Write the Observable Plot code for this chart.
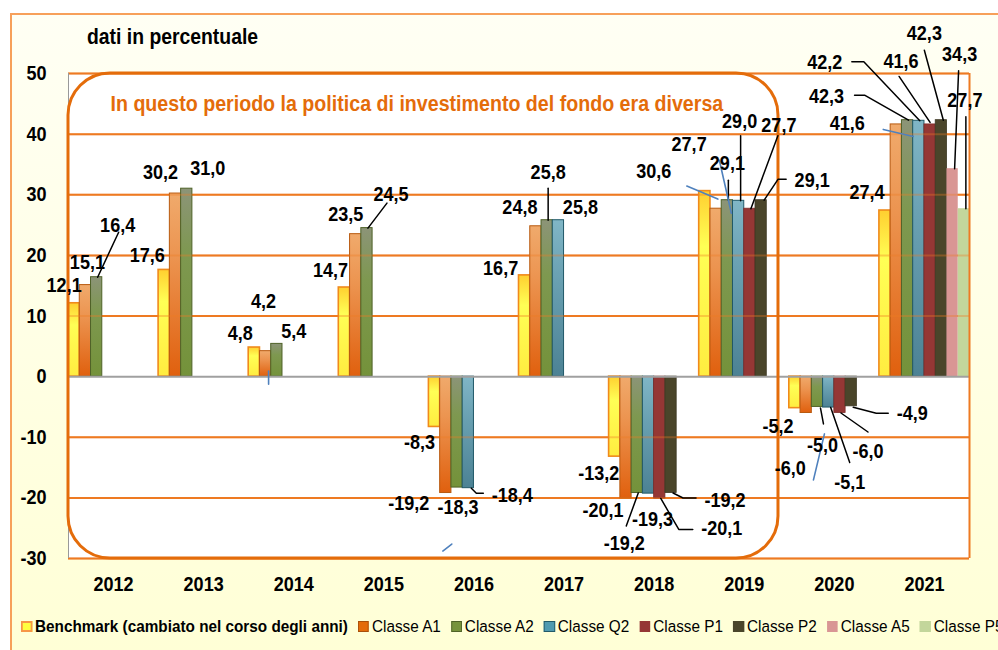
<!DOCTYPE html>
<html><head><meta charset="utf-8">
<script src="https://cdn.jsdelivr.net/npm/d3@7"></script>
<script src="https://cdn.jsdelivr.net/npm/@observablehq/plot@0.6"></script>
<style>
html,body{margin:0;padding:0;background:#fff;width:998px;height:650px;overflow:hidden;font-family:"Liberation Sans",Arial,sans-serif;}
#frame{position:absolute;left:10px;top:13px;width:988px;height:637px;border-top:2px solid #F7A05A;border-left:2px solid #F7A05A;background:linear-gradient(#FFFFF4,#FFFFD6);box-sizing:border-box;}
#title{position:absolute;left:87px;top:26.4px;font-size:22px;font-weight:bold;line-height:1;color:#000;white-space:nowrap;transform:scaleX(0.88);transform-origin:0 0;}
#chart{position:absolute;left:12px;top:60px;}
#legend{position:absolute;left:21px;top:616px;display:flex;white-space:nowrap;font-size:17.4px;line-height:20px;color:#000;transform:scaleX(0.88);transform-origin:0 0;}
.item{display:flex;align-items:center;margin-right:11.4px;}
.sw{width:12.5px;height:11px;box-sizing:border-box;margin-right:3.4px;flex:none;}
</style></head><body>
<div id="frame"></div>
<div id="title">dati in percentuale</div>
<div id="chart"></div>
<div id="legend"></div>
<script>
// ---- data ----
const years = ["2012","2013","2014","2015","2016","2017","2018","2019","2020","2021"];
const seriesNames = ["Benchmark (cambiato nel corso degli anni)","Classe A1","Classe A2","Classe Q2","Classe P1","Classe P2","Classe A5","Classe P5"];
const benchmark = [12.1, 17.6, 4.8, 14.7, -8.3, 16.7, -13.2, 30.6, -5.2, 27.4];
const classeA1  = [15.1, 30.2, 4.2, 23.5, -19.2, 24.8, -20.1, 27.7, -6.0, 41.6];
const classeA2  = [16.4, 31.0, 5.4, 24.5, -18.3, 25.8, -19.2, 29.1, -5.0, 42.3];
const classeQ2  = [null, null, null, null, -18.4, 25.8, -19.3, 29.0, -5.1, 42.2];
const classeP1  = [null, null, null, null, null, null, -20.1, 27.7, -6.0, 41.6];
const classeP2  = [null, null, null, null, null, null, -19.2, 29.1, -4.9, 42.3];
const classeA5  = [null, null, null, null, null, null, null, null, null, 34.3];
const classeP5  = [null, null, null, null, null, null, null, null, null, 27.7];
const yTicks = [-30, -20, -10, 0, 10, 20, 30, 40, 50];
const noteText = "In questo periodo la politica di investimento del fondo era diversa";

const seriesValues = [benchmark, classeA1, classeA2, classeQ2, classeP1, classeP2, classeA5, classeP5];

// ---- styles ----
const fills = ["url(#gBench)","url(#gA1)","url(#gA2)","url(#gQ2)","#953735","#4A452A","#D99694","#C3D69B"];
const strokes = ["#F08A1C","#B85A10","#4F6228","#215968","#7D2C2A","#3B3722","#D99694","#C3D69B"];
const strokeWidths = [1.6,1,1,1,0.8,0.8,0,0];
const swatchFill = ["#FFFF40","#E46C0A","#77933C","#4F9AB0","#953735","#4A452A","#D99694","#C3D69B"];
const swatchStroke = ["#F79646","#A84F0A","#4F6228","#215968","#953735","#4A452A","#D99694","#C3D69B"];
const swatchBorder = [2,1.5,1.5,1.5,0,0,0,0];
const orange = "#EE7A22";
const noteOrange = "#E46C0A";
const squeeze = 0.88; // narrow bold lettering

// label offsets (pixels) from the end of each bar: [yearIndex, seriesIndex, dx, dy]
const labelLayout = [
 [0,0,-10,-18],[0,1,2,-23],[0,2,21,-52],
 [1,0,-17,-14],[1,1,-15,-21],[1,2,21,-20],
 [2,0,-14,-14],[2,1,-2,-50],[2,2,17,-12],
 [3,0,-14,-17],[3,1,-10,-20],[3,2,24,-34],
 [4,0,-15,15],[4,1,-37,10],[4,2,1,20],[4,3,44,7],
 [5,0,-24,-7],[5,1,-16,-19],[5,2,1,-48],[5,3,22,-13],
 [6,0,-16,17],[6,1,-23,12],[6,2,-13,50],[6,3,4,26],[6,4,62,30],[6,5,54,7],
 [7,0,-51,-20],[7,1,-27,-64],[7,2,0,-37],[7,3,1,-79],[7,4,29,-83],[7,5,51,-20],
 [8,0,-17,18],[8,1,-16,55],[8,2,5,38],[8,3,21,75],[8,4,28,38],[8,5,61,7],
 [9,0,-18,-18],[9,1,-49,-1],[9,2,-81,-24],[9,3,-94,-58],[9,4,-29,-63],[9,5,-17,-87],[9,6,7,-114],[9,7,1,-108]
];
// leader lines (pixel offsets from bar end)
const leaderLayout = [
 [0,2,[[1,0],[22,-45]]],
 [3,2,[[1,0],[20,-25]]],
 [4,3,[[3,0],[8,5],[15,5]]],
 [5,2,[[1,0],[1,-32]]],
 [6,2,[[1,0],[-11,33]]],
 [6,4,[[1,0],[19,31],[33,31]]],
 [6,5,[[2,0],[12,5],[25,5]]],
 [7,2,[[1,-20],[1,0]]],
 [7,3,[[2,-65],[2,0]]],
 [7,4,[[28,-73],[1,0]]],
 [7,5,[[25,-21],[17,-21],[3,0]]],
 [8,2,[[3,1],[6,17]]],
 [8,3,[[2,0],[21,55]]],
 [8,4,[[1,0],[28,19]]],
 [8,5,[[2,1],[25,7],[37,7]]],
 [9,2,[[-53,-25],[-43,-25],[1,0]]],
 [9,3,[[-67,-59],[-55,-59],[1,0]]],
 [9,4,[[-31,-48],[0,-2]]],
 [9,5,[[-17,-70],[2,0]]],
 [9,6,[[6,-98],[2,0]]],
 [9,7,[[2,-92],[2,0]]]
];
const strayLayout = [
 [2,1,[[3,20],[3,33]]],
 [4,1,[[-3,58],[6,51]]],
 [7,0,[[-18,-5],[13,8]]],
 [7,2,[[-8,-40],[4,13]]],
 [8,2,[[7,27],[-4,73]]],
 [9,1,[[-13,5],[17,12]]]
];

// ---- layout ----
const W = 986, H = 540, mL = 56, mR = 29, mT = 13, mB = 42;
const nSlots = seriesNames.length;
const kx = (W - mL - mR) / years.length;
const ky = (H - mT - mB) / (yTicks[yTicks.length-1] - yTicks[0]);
const center = (i, j) => i + (j + 0.5) / nSlots;
const fmt = v => v.toFixed(1).replace(".", ",");

const bars = [];
seriesValues.forEach((vals, j) => vals.forEach((v, i) => { if (v != null) bars.push({i, j, v}); }));

const labels = labelLayout.map(([i, j, dx, dy]) => {
  const v = seriesValues[j][i];
  return {x: center(i, j) + dx / kx, y: v - dy / ky, text: fmt(v)};
});
function pathPoints(layout) {
  const pts = [];
  layout.forEach(([i, j, p], k) => {
    const v = seriesValues[j][i];
    p.forEach(([dx, dy]) => pts.push({id: k, x: center(i, j) + dx / kx, y: v - dy / ky}));
  });
  return pts;
}
const leaders = pathPoints(leaderLayout);
const strays = pathPoints(strayLayout);
const gridLines = yTicks.filter(d => d !== 0);

const svg = Plot.plot({
  width: W, height: H, marginLeft: mL, marginRight: mR, marginTop: mT, marginBottom: mB,
  style: {background: "transparent", overflow: "visible", fontFamily: "'Liberation Sans', Arial, sans-serif", fontSize: "20.5px", fontWeight: "bold", color: "#000"},
  x: {domain: [0, years.length], ticks: years.map((d, i) => i + 0.5), tickFormat: t => years[Math.floor(t)], tickSize: 0, tickPadding: 18, label: null},
  y: {domain: [yTicks[0], yTicks[yTicks.length-1]], ticks: yTicks, tickFormat: d => String(d), tickSize: 0, tickPadding: 22, label: null},
  marks: [
    Plot.frame({fill: "white", stroke: "none"}),
    Plot.ruleY(gridLines, {stroke: orange, strokeWidth: 2}),
    ...seriesNames.map((s, j) => Plot.rect(bars.filter(d => d.j === j), {
      x1: d => d.i + d.j / nSlots, x2: d => d.i + (d.j + 1) / nSlots, y1: 0, y2: "v",
      fill: fills[j], stroke: strokes[j], strokeWidth: strokeWidths[j]
    })),
    Plot.ruleY(gridLines, {stroke: orange, strokeWidth: 2, strokeOpacity: 0.35}),
    Plot.ruleY([0], {stroke: "#A0A0A0", strokeWidth: 2}),
    Plot.ruleX([0], {stroke: "#999", strokeWidth: 1}),
    Plot.ruleX([years.length], {stroke: orange, strokeWidth: 2}),
    Plot.rect([{}], {x1: 0, x2: 7.88, y1: yTicks[0], y2: yTicks[yTicks.length-1], rx: 42, fill: "none", stroke: noteOrange, strokeWidth: 3}),
    Plot.text([noteText], {frameAnchor: "top-left", dx: 42, dy: 22, textAnchor: "start", text: d => d, fill: noteOrange, fontSize: 22.3, fontWeight: "bold"}),
    Plot.line(leaders, {x: "x", y: "y", z: "id", stroke: "#000", strokeWidth: 1.5, curve: "linear"}),
    Plot.line(strays, {x: "x", y: "y", z: "id", stroke: "#4F81BD", strokeWidth: 1.6, curve: "linear"}),
    Plot.text(labels, {x: "x", y: "y", text: "text", fill: "#000", fontSize: 20.5, fontWeight: "bold"})
  ]
});

const defs = d3.select(svg).insert("defs", ":first-child");
function grad(id, stops) {
  const g = defs.append("linearGradient").attr("id", id).attr("x1", 0).attr("y1", 0).attr("x2", 0).attr("y2", 1);
  stops.forEach(([o, c]) => g.append("stop").attr("offset", o).attr("stop-color", c));
}
grad("gBench", [[0, "#FFCF30"], [0.3, "#FFFF55"], [1, "#FFEC40"]]);
grad("gA1", [[0, "#F0AA6C"], [0.35, "#EC9450"], [1, "#E0600E"]]);
grad("gA2", [[0, "#8C9478"], [0.35, "#7E9850"], [1, "#74923A"]]);
grad("gQ2", [[0, "#80B6C6"], [0.35, "#6BA2B3"], [1, "#4C8294"]]);

document.getElementById("chart").appendChild(svg);

// narrow the bold lettering horizontally
d3.select(svg).selectAll("text").each(function() {
  const len = this.getComputedTextLength();
  if (len > 0) {
    this.setAttribute("textLength", (len * squeeze).toFixed(2));
    this.setAttribute("lengthAdjust", "spacingAndGlyphs");
  }
});

// legend
const legend = d3.select("#legend");
seriesNames.forEach((s, j) => {
  const it = legend.append("div").attr("class", "item");
  it.append("div").attr("class", "sw")
    .style("background", swatchFill[j])
    .style("border", swatchBorder[j] ? `${swatchBorder[j]}px solid ${swatchStroke[j]}` : "none");
  it.append("span").text(s).style("font-weight", j === 0 ? "bold" : "normal");
});
</script></body></html>
